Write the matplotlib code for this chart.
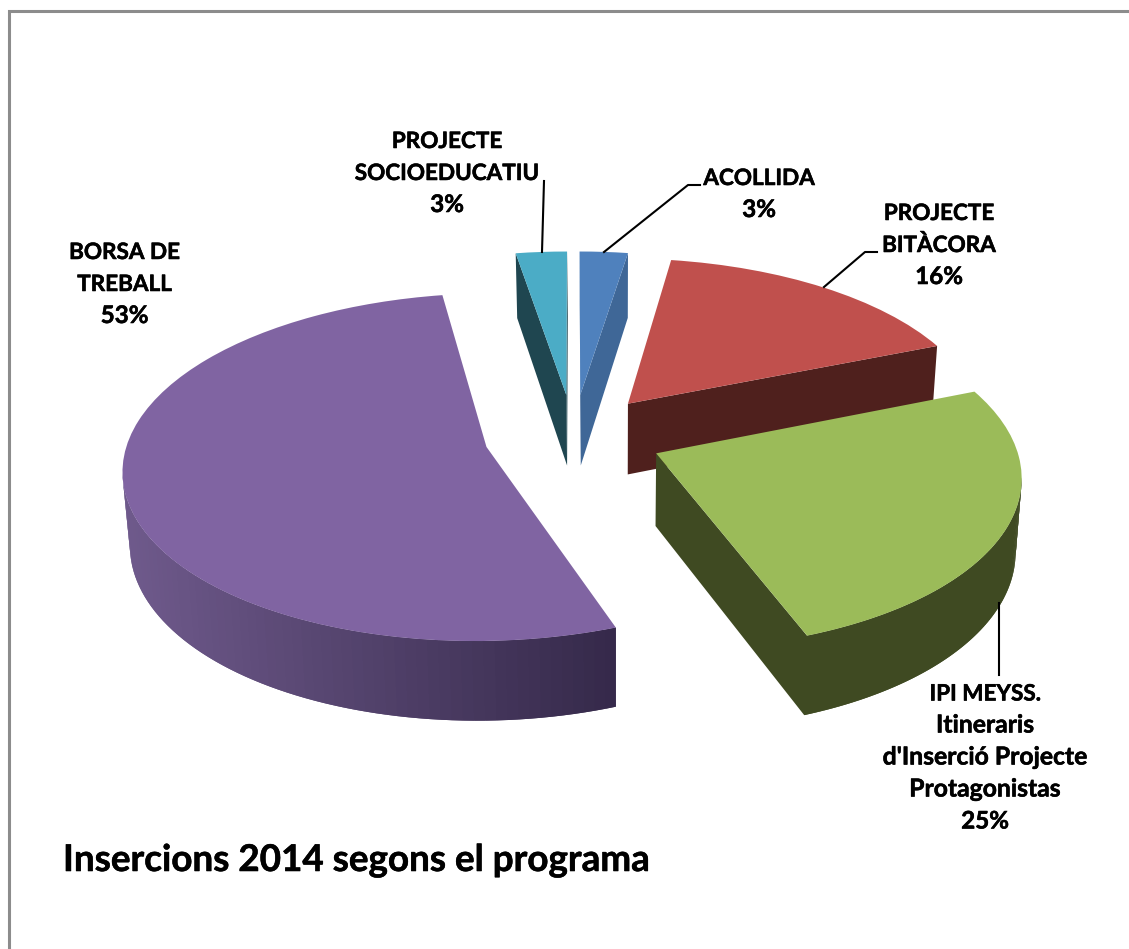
import numpy as np
import matplotlib
matplotlib.use("Agg")
import matplotlib.pyplot as plt
import matplotlib.patheffects as pe
from matplotlib.transforms import Transform
from matplotlib.colors import to_rgb

# ---- data ----
categories = [["ACOLLIDA"], ["PROJECTE", "BITÀCORA"],
              ["IPI MEYSS.", "Itineraris", "d'Inserció Projecte", "Protagonistas"],
              ["BORSA DE", "TREBALL"], ["PROJECTE", "SOCIOEDUCATIU"]]
values = [2.45, 16.3, 25.2, 52.5, 2.6]
pct_labels = ["3%", "16%", "25%", "53%", "3%"]
title = "Insercions 2014 segons el programa"

# ---- styles ----
top_colors = ["#4f81bd", "#c0504d", "#9bbb59", "#8064a2", "#4bacc6"]
wall_colors = ["#3f6797", "#4f201d", "#3f4a22", "#6f5a8c", "#1f4650"]
wall_end = ["#3f6797", "#4f201d", "#3f4a22", "#35294a", "#1f4650"]
explode = 0.25
CX, CY, A, B, K, DEPTH, K_DEPTH = 573.5, 436.0, 357.5, 169.0, 0.1156, 72.0, 0.09
SHRINK, SHRINK_X = 0.985, 615.0


class Persp(Transform):
    """Perspective view of the pie plane, with an optional drop below it."""
    input_dims = output_dims = 2

    def __init__(self, drop=0.0, scale=1.0):
        super().__init__()
        self.drop = drop
        self.scale = scale

    def transform_non_affine(self, values):
        p = np.asarray(values, float)
        w = 1 + K * p[:, 1]
        x = CX + A * p[:, 0] / w
        x = SHRINK_X + (x - SHRINK_X) * self.scale
        y = CY - B * p[:, 1] / w + self.drop / (1 + K_DEPTH * p[:, 1])
        return np.column_stack([x, y])


plt.rcParams["font.family"] = ["Lato", "DejaVu Sans"]
fig = plt.figure(figsize=(11.29, 9.49), dpi=100)
ax = fig.add_axes([0, 0, 1, 1])

wedges, _ = ax.pie(values, explode=[explode] * len(values), startangle=90,
                   counterclock=False, colors=top_colors, radius=1.0)
ax.set_aspect("auto")
ax.set_xlim(0, 1129)
ax.set_ylim(949, 0)
ax.axis("off")

top, bottom = Persp(0.0), Persp(DEPTH, SHRINK)


def lerp(c0, c1, t):
    a, b = np.array(to_rgb(c0)), np.array(to_rgb(c1))
    return tuple(a + (b - a) * t)


for i in [1, 0, 4, 2, 3]:
    w = wedges[i]
    th = np.radians(np.linspace(w.theta1, w.theta2, 121))
    cx, cy = w.center
    outline = np.vstack([[cx, cy],
                         np.column_stack([cx + np.cos(th), cy + np.sin(th)]),
                         [cx, cy]])
    t_pts = top.transform(outline)
    b_pts = bottom.transform(outline)
    area = 0.5 * np.sum(t_pts[:-1, 0] * t_pts[1:, 1] - t_pts[1:, 0] * t_pts[:-1, 1])
    sgn = np.sign(area)
    xs = t_pts[:, 0]
    n_seg = len(outline) - 1
    visible = [(t_pts[j + 1, 0] - t_pts[j, 0]) * sgn * -1 > 0 for j in range(n_seg)]
    for j in range(n_seg):
        if not visible[j]:
            continue
        # strips overlap the next one so that no seams show
        k = j + 2 if j + 1 < n_seg and visible[j + 1] else j + 1
        t = np.clip((0.5 * (xs[j] + xs[j + 1]) - 122) / (615 - 122), 0, 1)
        col = lerp(wall_colors[i], wall_end[i], t)
        poly = np.vstack([t_pts[j:k + 1], b_pts[j:k + 1][::-1]])
        ax.fill(poly[:, 0], poly[:, 1], facecolor=col, edgecolor="none",
                zorder=2 + 0.01 * i)
    w.set_transform(top + ax.transData)
    w.set_zorder(3 + 0.01 * i)

# chart-area border
ax.plot([9, 9, 1129], [949, 10.5, 10.5], color="#8c8c8c", lw=2.2, zorder=1,
        solid_joinstyle="miter")

# leader lines
leaders = [([604, 688, 700], [252, 185, 185]),
           ([824, 865, 877], [287, 252, 252]),
           ([999, 999], [603, 675]),
           ([542, 544], [252, 181])]
for lx, ly in leaders:
    ax.plot(lx, ly, color="black", lw=1.5, zorder=5)

heavy = [pe.withStroke(linewidth=0.4, foreground="black")]

# data labels: horizontal centre and first baseline of each label
label_x = [759, 939, 985, 124.5, 447]
label_y = [185, 220, 700.5, 259, 148]
PITCH = 32.0
for lines, pct, x, y in zip(categories, pct_labels, label_x, label_y):
    for n, line in enumerate(lines + [pct]):
        size = 17.4 if line == pct else (16.2 if line.isupper() else 17.8)
        ax.text(x, y + n * PITCH, line, ha="center", va="baseline",
                fontsize=size, fontweight="bold", color="black", zorder=6,
                path_effects=heavy)

ax.text(63, 871, title, ha="left", va="baseline", fontsize=26.5,
        fontweight="bold", color="black", zorder=6, path_effects=heavy)

fig.savefig("out.png", dpi=100)
